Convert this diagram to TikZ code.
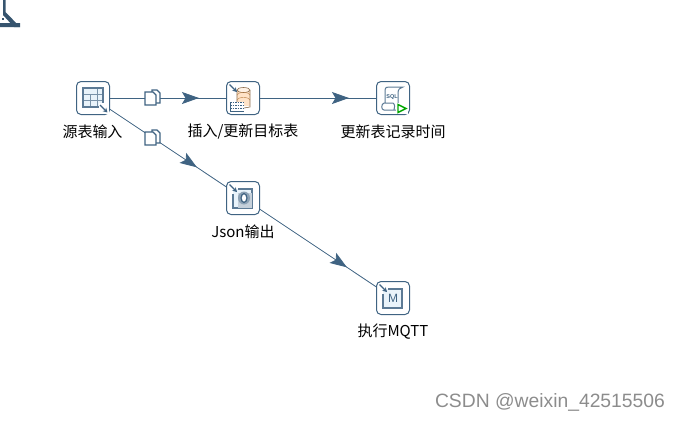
\documentclass[tikz,border=0pt]{standalone}
\usepackage{fontspec}
\newfontfamily\cjk{Noto Sans CJK SC}
\newfontfamily\wmfont{Liberation Sans}
\usetikzlibrary{arrows.meta,decorations.markings}
\definecolor{stepblue}{HTML}{3F6382}
\definecolor{pageblue}{HTML}{E9F3FA}
\tikzset{
    stepbox/.style={draw=stepblue,line width=1pt,rounded corners=4.5pt,fill=white,inner sep=0pt,minimum size=33pt},
    steplabel/.style={font=\cjk\fontsize{15}{16}\selectfont,text=black,inner sep=0pt},
    hopline/.style={draw=stepblue,line width=0.8pt},
    hoptip/.style={hopline,postaction={decorate},
      decoration={markings,mark=at position #1 with {\arrow{Stealth[length=17pt,width=12pt,inset=3.5pt]}}}},
    iconline/.style={draw=stepblue!85,line width=1.2pt},
    cornerarrow/.style={stepblue,line width=1.3pt,-{Stealth[length=4.5pt,width=5pt]}},
    pics/copyicon/.style={code={
      \draw[stepblue,line width=1.2pt,fill=white] (-1,-8) -- (4,-8) -- (7,-5) -- (7,5) -- (-1,5) -- cycle;
      \draw[stepblue,line width=1.2pt,fill=white] (-8,-6) -- (0,-6) -- (3,-3) -- (3,7) -- (-8,7) -- cycle;
    }}
}

\begin{document}
\begin{tikzpicture}[x=1pt,y=-1pt]
  \useasboundingbox (0,0) rectangle (681,421);

  % steps
  \node[stepbox] (tableinput) at (93,98)  {};
  \node[stepbox] (insertupdate) at (243,98) {};
  \node[stepbox] (execsql) at (393,98) {};
  \node[stepbox] (jsonoutput) at (243,198) {};
  \node[stepbox] (mqtt) at (393,298) {};

  \node[steplabel] (tableinputlab) at (92.5,131.5) {源表输入};
  \node[steplabel] (insertupdatelab) at (243,131.5) {插入/更新目标表};
  \node[steplabel] (execsqllab) at (393,131.5) {更新表记录时间};
  \node[steplabel] (jsonoutputlab) at (243,231.5) {Json输出};
  \node[steplabel] (mqttlab) at (393,331.5) {执行MQTT};

  % hops
  \draw[hoptip=0.767] (tableinput) -- (insertupdate);
  \draw[hoptip=0.767] (insertupdate) -- (execsql);
  \draw[hoptip=0.75] (tableinput) -- (jsonoutput);
  \draw[hoptip=0.75] (jsonoutput) -- (mqtt);

  \pic at (153,98) {copyicon};
  \pic at (153,138) {copyicon};

  % table input
  \begin{scope}[shift={(93,98)}]
    \fill[pageblue] (-10,-10) rectangle (10,9);
    \draw[stepblue!70,line width=0.7pt] (-10,-4) -- (10,-4) (-10,2) -- (10,2) (-3,-4) -- (-3,9) (4,-10) -- (4,9);
    \draw[iconline] (-10,-10) rectangle (10,9);
    \fill[white] (6,5) rectangle (16,16);
    \draw[cornerarrow] (7,7) -- (14.5,14.5);
  \end{scope}

  % insert / update
  \begin{scope}[shift={(243,98)}]
    \fill[orange!22] (-6,-8) rectangle (7,8);
    \fill[orange!10] (0.5,-8) ellipse (6.5 and 2.5);
    \draw[orange!40!stepblue,line width=0.6pt] (0.5,-8) ellipse (6.5 and 2.5);
    \draw[orange!40!stepblue,line width=0.6pt] (-6,-8) -- (-6,4) (7,-8) -- (7,9) -- (1,10);
    \draw[orange!45!gray,line width=0.4pt] (-6,-3) arc[x radius=6.5,y radius=2.5,start angle=180,end angle=360];
    \draw[orange!45!gray,line width=0.4pt] (-6,2) arc[x radius=6.5,y radius=2.5,start angle=180,end angle=360];
    \fill[white] (-13,4) rectangle (1,13);
    \draw[stepblue,line width=0.7pt,dash pattern=on 1.5pt off 1pt] (-13,4) -- (1,4) (-13,7.5) -- (1,7.5) (-13,10.5) -- (1,10.5);
    \draw[stepblue,line width=0.7pt] (-13,4) -- (-13,13) -- (1,13);
    \draw[cornerarrow] (-13.5,-13.5) -- (-6,-6);
  \end{scope}

  % sql script
  \begin{scope}[shift={(393,98)}]
    \draw[iconline,fill=white,line width=1pt] (-8,5) -- (-8,-7) .. controls (-8,-11) and (-6,-11) .. (-4,-11) -- (10,-11) .. controls (7,-10) and (5,-9) .. (5,-5) -- (5,12) -- (-9,12) .. controls (-12,12) and (-12,6) .. (-9,5) -- (0,5) .. controls (2,6) and (2,10) .. (1,12);
    \node[font=\wmfont\fontsize{5.5}{6}\selectfont\bfseries,text=stepblue,inner sep=0pt] (sqltext) at (-1,-1) {SQL};
    \fill[white] (3,5) rectangle (15,16);
    \draw[draw=green!65!black,fill=white,line width=1.4pt,line join=miter] (5,6.5) -- (13,10.5) -- (5,14.5) -- cycle;
  \end{scope}

  % json output
  \begin{scope}[shift={(243,198)}]
    \fill[pageblue] (-10,-9) rectangle (9,10);
    \draw[iconline] (-10,-4) -- (-10,10) -- (9,10) -- (9,-9) -- (-5,-9);
    \fill[stepblue!30] (-5,-5) rectangle (9,10);
    \fill[stepblue!60] (1,0) ellipse (6 and 6.5);
    \fill[white] (1,0) ellipse (2 and 3.5);
    \draw[stepblue,line width=1pt] (1,0) ellipse (3 and 4.5);
    \draw[cornerarrow] (-13.5,-13.5) -- (-6,-6);
  \end{scope}

  % mqtt
  \begin{scope}[shift={(393,298)}]
    \fill[pageblue] (-10,-9) rectangle (9,10);
    \draw[iconline] (-10,-4) -- (-10,10) -- (9,10) -- (9,-9) -- (-5,-9);
    \node[font=\wmfont\fontsize{12}{13}\selectfont,text=stepblue,inner sep=0pt] (mqttmark) at (0,0) {M};
    \draw[cornerarrow] (-13.5,-13.5) -- (-6,-6);
  \end{scope}

  % cut off shape, top left
  \fill[stepblue!85!black] (3,0) rectangle (5.5,12) (0,23) rectangle (20,27);
  \fill[stepblue!85!black] (3,12) -- (5.5,12) -- (20,27) -- (14,27) -- (3,15) -- cycle;
  \fill[stepblue!85!black] (2,18) rectangle (4,20);

  \node[font=\wmfont\fontsize{19.3}{21}\selectfont,text=black!45,inner sep=0pt] (watermark) at (550,402) {CSDN @weixin\_42515506};
\end{tikzpicture}
\end{document}
